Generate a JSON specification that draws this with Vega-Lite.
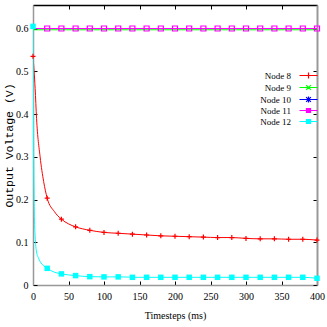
{
  "$schema": "https://vega.github.io/schema/vega-lite/v6.json",
  "width": 284,
  "height": 280,
  "autosize": "none",
  "padding": {"left": 33, "top": 5, "right": 10, "bottom": 42},
  "background": "white",
  "config": {
    "view": {"stroke": null},
    "axis": {"grid": false, "labelFont": "Liberation Serif", "labelFontSize": 10, "labelColor": "#000", "titleFont": "Liberation Serif", "titleFontWeight": "normal", "titleColor": "#000"}
  },
  "datasets": {
    "lines": [
      {"t": 0, "v": 0.535, "node": "Node 8"}, {"t": 3, "v": 0.46, "node": "Node 8"}, {"t": 5, "v": 0.39, "node": "Node 8"}, {"t": 10, "v": 0.3, "node": "Node 8"}, {"t": 15, "v": 0.242, "node": "Node 8"}, {"t": 20, "v": 0.203, "node": "Node 8"}, {"t": 30, "v": 0.172, "node": "Node 8"}, {"t": 40, "v": 0.154, "node": "Node 8"}, {"t": 50, "v": 0.143, "node": "Node 8"}, {"t": 60, "v": 0.136, "node": "Node 8"}, {"t": 80, "v": 0.128, "node": "Node 8"}, {"t": 100, "v": 0.123, "node": "Node 8"}, {"t": 120, "v": 0.121, "node": "Node 8"}, {"t": 140, "v": 0.119, "node": "Node 8"}, {"t": 160, "v": 0.117, "node": "Node 8"}, {"t": 180, "v": 0.115, "node": "Node 8"}, {"t": 200, "v": 0.114, "node": "Node 8"}, {"t": 220, "v": 0.113, "node": "Node 8"}, {"t": 240, "v": 0.112, "node": "Node 8"}, {"t": 260, "v": 0.111, "node": "Node 8"}, {"t": 280, "v": 0.111, "node": "Node 8"}, {"t": 300, "v": 0.109, "node": "Node 8"}, {"t": 320, "v": 0.108, "node": "Node 8"}, {"t": 340, "v": 0.108, "node": "Node 8"}, {"t": 360, "v": 0.107, "node": "Node 8"}, {"t": 380, "v": 0.107, "node": "Node 8"}, {"t": 400, "v": 0.105, "node": "Node 8"},
      {"t": 0, "v": 0.597, "node": "Node 9"}, {"t": 400, "v": 0.597, "node": "Node 9"},
      {"t": 0, "v": 0.6, "node": "Node 10"}, {"t": 400, "v": 0.6, "node": "Node 10"},
      {"t": 0, "v": 0.6, "node": "Node 11"}, {"t": 400, "v": 0.6, "node": "Node 11"},
      {"t": 0, "v": 0.605, "node": "Node 12"}, {"t": 1, "v": 0.3, "node": "Node 12"}, {"t": 2, "v": 0.16, "node": "Node 12"}, {"t": 3, "v": 0.115, "node": "Node 12"}, {"t": 5, "v": 0.077, "node": "Node 12"}, {"t": 7.5, "v": 0.064, "node": "Node 12"}, {"t": 10, "v": 0.055, "node": "Node 12"}, {"t": 15, "v": 0.045, "node": "Node 12"}, {"t": 20, "v": 0.039, "node": "Node 12"}, {"t": 30, "v": 0.03, "node": "Node 12"}, {"t": 40, "v": 0.026, "node": "Node 12"}, {"t": 60, "v": 0.022, "node": "Node 12"}, {"t": 80, "v": 0.0195, "node": "Node 12"}, {"t": 100, "v": 0.019, "node": "Node 12"}, {"t": 120, "v": 0.019, "node": "Node 12"}, {"t": 135, "v": 0.0185, "node": "Node 12"}, {"t": 140, "v": 0.018, "node": "Node 12"}, {"t": 200, "v": 0.018, "node": "Node 12"}, {"t": 300, "v": 0.018, "node": "Node 12"}, {"t": 380, "v": 0.018, "node": "Node 12"}, {"t": 400, "v": 0.0157, "node": "Node 12"}
    ],
    "pts": [
      {"t": 0, "v": 0.535, "node": "Node 8"}, {"t": 20, "v": 0.203, "node": "Node 8"}, {"t": 40, "v": 0.154, "node": "Node 8"}, {"t": 60, "v": 0.136, "node": "Node 8"}, {"t": 80, "v": 0.128, "node": "Node 8"}, {"t": 100, "v": 0.123, "node": "Node 8"}, {"t": 120, "v": 0.121, "node": "Node 8"}, {"t": 140, "v": 0.119, "node": "Node 8"}, {"t": 160, "v": 0.117, "node": "Node 8"}, {"t": 180, "v": 0.115, "node": "Node 8"}, {"t": 200, "v": 0.114, "node": "Node 8"}, {"t": 220, "v": 0.113, "node": "Node 8"}, {"t": 240, "v": 0.112, "node": "Node 8"}, {"t": 260, "v": 0.111, "node": "Node 8"}, {"t": 280, "v": 0.111, "node": "Node 8"}, {"t": 300, "v": 0.109, "node": "Node 8"}, {"t": 320, "v": 0.108, "node": "Node 8"}, {"t": 340, "v": 0.108, "node": "Node 8"}, {"t": 360, "v": 0.107, "node": "Node 8"}, {"t": 380, "v": 0.107, "node": "Node 8"}, {"t": 400, "v": 0.105, "node": "Node 8"},
      {"t": 20, "v": 0.6, "node": "Node 11"}, {"t": 40, "v": 0.6, "node": "Node 11"}, {"t": 60, "v": 0.6, "node": "Node 11"}, {"t": 80, "v": 0.6, "node": "Node 11"}, {"t": 100, "v": 0.6, "node": "Node 11"}, {"t": 120, "v": 0.6, "node": "Node 11"}, {"t": 140, "v": 0.6, "node": "Node 11"}, {"t": 160, "v": 0.6, "node": "Node 11"}, {"t": 180, "v": 0.6, "node": "Node 11"}, {"t": 200, "v": 0.6, "node": "Node 11"}, {"t": 220, "v": 0.6, "node": "Node 11"}, {"t": 240, "v": 0.6, "node": "Node 11"}, {"t": 260, "v": 0.6, "node": "Node 11"}, {"t": 280, "v": 0.6, "node": "Node 11"}, {"t": 300, "v": 0.6, "node": "Node 11"}, {"t": 320, "v": 0.6, "node": "Node 11"}, {"t": 340, "v": 0.6, "node": "Node 11"}, {"t": 360, "v": 0.6, "node": "Node 11"}, {"t": 380, "v": 0.6, "node": "Node 11"}, {"t": 400, "v": 0.6, "node": "Node 11"},
      {"t": 0, "v": 0.605, "node": "Node 12"}, {"t": 20, "v": 0.039, "node": "Node 12"}, {"t": 40, "v": 0.026, "node": "Node 12"}, {"t": 60, "v": 0.022, "node": "Node 12"}, {"t": 80, "v": 0.0195, "node": "Node 12"}, {"t": 100, "v": 0.019, "node": "Node 12"}, {"t": 120, "v": 0.019, "node": "Node 12"}, {"t": 140, "v": 0.018, "node": "Node 12"}, {"t": 160, "v": 0.018, "node": "Node 12"}, {"t": 180, "v": 0.018, "node": "Node 12"}, {"t": 200, "v": 0.018, "node": "Node 12"}, {"t": 220, "v": 0.018, "node": "Node 12"}, {"t": 240, "v": 0.018, "node": "Node 12"}, {"t": 260, "v": 0.018, "node": "Node 12"}, {"t": 280, "v": 0.018, "node": "Node 12"}, {"t": 300, "v": 0.018, "node": "Node 12"}, {"t": 320, "v": 0.018, "node": "Node 12"}, {"t": 340, "v": 0.018, "node": "Node 12"}, {"t": 360, "v": 0.018, "node": "Node 12"}, {"t": 380, "v": 0.018, "node": "Node 12"}, {"t": 400, "v": 0.0157, "node": "Node 12"}
    ]
  },
  "layer": [
    {
      "data": {"name": "lines"},
      "mark": {"type": "line", "strokeWidth": 1, "interpolate": "monotone", "clip": true},
      "encoding": {
        "x": {"field": "t", "type": "quantitative", "scale": {"domain": [0, 400], "nice": false, "zero": false},
          "axis": {"orient": "bottom", "values": [0, 50, 100, 150, 200, 250, 300, 350, 400], "title": "Timesteps (ms)", "titleFontSize": 10, "titlePadding": 9, "tickSize": -4, "tickColor": "#000", "domainColor": "#999", "domainWidth": 1.5, "labelPadding": 10, "labelFlush": false}},
        "y": {"field": "v", "type": "quantitative", "scale": {"domain": [0, 0.655], "nice": false, "zero": false},
          "axis": {"orient": "left", "values": [0, 0.1, 0.2, 0.3, 0.4, 0.5, 0.6], "labelExpr": "datum.value === 0 ? '0' : format(datum.value, '.1f')", "title": "Output Voltage (V)", "titleFont": "Liberation Mono", "titleFontSize": 11.5, "titlePadding": 1, "tickSize": -4, "tickColor": "#000", "domainColor": "#999", "domainWidth": 1.5, "labelPadding": 9, "labelFlush": false}},
        "color": {"field": "node", "type": "nominal",
          "scale": {"domain": ["Node 8", "Node 9", "Node 10", "Node 11", "Node 12"], "range": ["#ff0000", "#00ff00", "#0000ff", "#ff00ff", "#00ffff"]},
          "legend": {
            "orient": "none", "legendX": 271, "legendY": 66, "title": null, "padding": 0,
            "labelAlign": "right", "labelOffset": -22, "labelFont": "Liberation Serif", "labelFontSize": 9, "labelColor": "#000",
            "symbolSize": 36, "symbolStrokeWidth": 1.2, "rowPadding": 1,
            "encode": {"symbols": {"update": {
              "shape": {"signal": "datum.value === 'Node 8' ? 'M-3,0L3,0M0,-1L0,1' : datum.value === 'Node 9' ? 'M-3,0L3,0M-0.8,-0.8L0.8,0.8M-0.8,0.8L0.8,-0.8' : datum.value === 'Node 10' ? 'M-3,0L3,0M-0.8,-0.8L0.8,0.8M-0.8,0.8L0.8,-0.8M0,-1L0,1' : 'M-3,0L-0.67,0M0.67,0L3,0M-0.67,-0.67L0.67,-0.67L0.67,0.67L-0.67,0.67Z'"},
              "fill": {"signal": "datum.value === 'Node 12' ? '#00ffff' : 'transparent'"}
            }}}
          }}
      }
    },
    {
      "data": {"name": "pts"},
      "transform": [{"filter": "datum.node !== 'Node 12'"}],
      "mark": {"type": "point", "filled": false, "size": 25, "strokeWidth": 1.2, "opacity": 1},
      "encoding": {
        "x": {"field": "t", "type": "quantitative", "axis": {"orient": "top", "values": [0, 50, 100, 150, 200, 250, 300, 350, 400], "labels": false, "title": null, "tickSize": -4, "tickColor": "#000", "domainColor": "#000", "domainWidth": 1.5}},
        "y": {"field": "v", "type": "quantitative", "axis": {"orient": "right", "values": [0, 0.1, 0.2, 0.3, 0.4, 0.5, 0.6], "labels": false, "title": null, "tickSize": -4, "tickColor": "#000", "domainColor": "#999", "domainWidth": 2}},
        "color": {"field": "node", "type": "nominal", "legend": null},
        "shape": {"field": "node", "type": "nominal", "legend": null,
          "scale": {"domain": ["Node 8", "Node 11"], "range": ["M-1,0L1,0M0,-1L0,1", "square"]}}
      }
    },
    {
      "data": {"name": "pts"},
      "transform": [{"filter": "datum.node === 'Node 12'"}],
      "mark": {"type": "square", "filled": true, "size": 30, "opacity": 1},
      "encoding": {
        "x": {"field": "t", "type": "quantitative", "axis": null},
        "y": {"field": "v", "type": "quantitative", "axis": null},
        "color": {"field": "node", "type": "nominal", "legend": null}
      }
    }
  ],
  "resolve": {"axis": {"x": "independent", "y": "independent"}}
}
